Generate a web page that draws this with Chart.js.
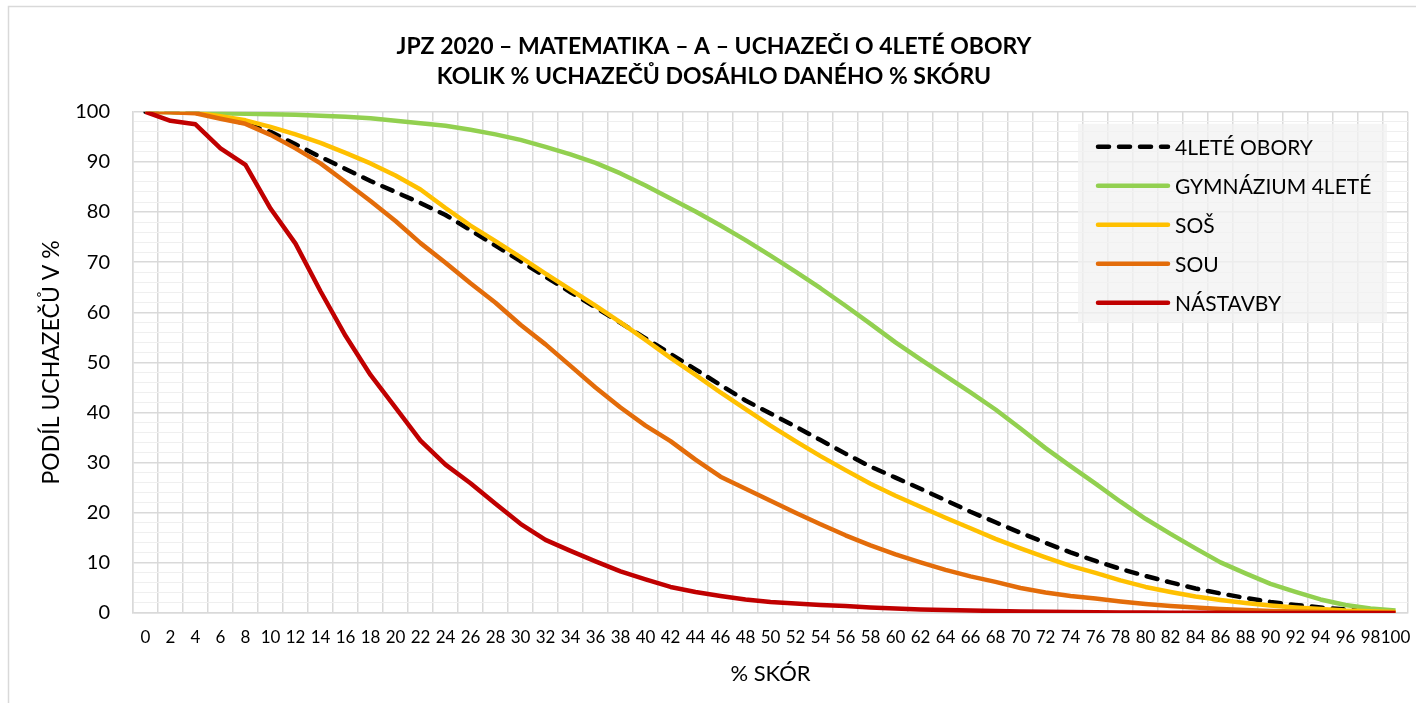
<!DOCTYPE html>
<html>
<head>
<meta charset="utf-8">
<title>JPZ 2020 – matematika – A</title>
<script src="https://cdn.jsdelivr.net/npm/chart.js@4.4.1/dist/chart.umd.min.js"></script>
<style>
  html, body { margin: 0; padding: 0; background: #fff; }
  #wrap { width: 1416px; height: 703px; }
</style>
</head>
<body>
<div id="wrap"><canvas id="chart" width="1416" height="703"></canvas></div>
<script>
// % skóre (osa x)
const scoreLabels = [0, 2, 4, 6, 8, 10, 12, 14, 16, 18, 20, 22, 24, 26, 28, 30, 32, 34, 36, 38, 40,
  42, 44, 46, 48, 50, 52, 54, 56, 58, 60, 62, 64, 66, 68, 70, 72, 74, 76, 78, 80,
  82, 84, 86, 88, 90, 92, 94, 96, 98, 100];

// podíl uchazečů, kteří dosáhli alespoň daného skóre
const oboryCtyrlete = [100, 100, 99.8, 99.0, 97.6, 96.0, 93.5, 91.0, 88.6, 86.2,
  84.0, 81.8, 79.4, 76.4, 73.3, 70.2, 67.1, 64.0, 61.0, 57.9,
  54.8, 51.7, 48.6, 45.5, 42.4, 39.8, 37.2, 34.5, 31.8, 29.2,
  27.0, 24.8, 22.5, 20.2, 18.1, 16.0, 14.0, 12.1, 10.4, 8.8,
  7.4, 6.1, 4.9, 3.9, 3.0, 2.2, 1.6, 1.1, 0.7, 0.4, 0.2];

const gymnazium = [100, 99.9, 99.8, 99.7, 99.6, 99.5, 99.4, 99.2, 99.0, 98.7,
  98.2, 97.7, 97.2, 96.4, 95.5, 94.4, 93.0, 91.5, 89.8, 87.7,
  85.3, 82.7, 80.1, 77.3, 74.4, 71.3, 68.1, 64.8, 61.3, 57.7,
  54.0, 50.6, 47.3, 44.0, 40.6, 36.8, 32.9, 29.3, 25.8, 22.2,
  18.8, 15.8, 12.9, 10.1, 7.9, 5.8, 4.2, 2.7, 1.6, 0.9, 0.5];

const sos = [100, 100, 99.8, 99.1, 98.3, 97.0, 95.5, 93.8, 91.8, 89.7,
  87.3, 84.5, 80.8, 77.3, 74.2, 71.0, 67.7, 64.5, 61.3, 58.0,
  54.5, 50.9, 47.5, 44.0, 40.7, 37.4, 34.3, 31.3, 28.5, 25.8,
  23.4, 21.2, 19.0, 16.9, 14.8, 12.9, 11.1, 9.4, 8.0, 6.5,
  5.2, 4.2, 3.3, 2.6, 2.0, 1.5, 1.1, 0.8, 0.5, 0.35, 0.2];

const sou = [100, 99.9, 99.7, 98.6, 97.6, 95.4, 92.7, 89.7, 86.0, 82.2,
  78.2, 73.8, 69.9, 65.8, 61.9, 57.5, 53.6, 49.3, 45.0, 41.0,
  37.4, 34.3, 30.6, 27.2, 24.8, 22.4, 20.0, 17.7, 15.5, 13.5,
  11.7, 10.1, 8.6, 7.3, 6.2, 5.0, 4.1, 3.4, 2.9, 2.3,
  1.8, 1.4, 1.1, 0.8, 0.6, 0.4, 0.3, 0.2, 0.1, 0.05, 0];

const nastavby = [100, 98.2, 97.5, 92.7, 89.4, 80.7, 73.7, 64.2, 55.3, 47.5,
  41.0, 34.4, 29.6, 25.9, 21.8, 17.8, 14.6, 12.4, 10.3, 8.3,
  6.7, 5.2, 4.2, 3.4, 2.7, 2.2, 1.9, 1.6, 1.4, 1.1,
  0.9, 0.7, 0.6, 0.5, 0.4, 0.3, 0.25, 0.2, 0.15, 0.1,
  0.1, 0.05, 0.05, 0.05, 0, 0, 0, 0, 0, 0, 0];

const FONT = 'Lato, "Open Sans", "Noto Sans", sans-serif';
const GRID = '#d9d9d9';
const GRID_MINOR = '#efefef';

Chart.defaults.font.family = FONT;
Chart.defaults.color = '#000';

// rámeček kolem celého grafu
const frame = {
  id: 'frame',
  beforeDraw(chart) {
    const c = chart.ctx;
    c.save();
    c.fillStyle = '#fff';
    c.fillRect(0, 0, chart.width, chart.height);
    c.strokeStyle = GRID;
    c.lineWidth = 1.5;
    c.strokeRect(8.5, 6.5, chart.width + 10, chart.height + 10);
    c.restore();
  }
};

// legenda uvnitř plochy grafu, vpravo nahoře
const innerLegend = {
  id: 'innerLegend',
  afterDraw(chart) {
    const c = chart.ctx;
    const area = chart.chartArea;
    const w = 309, h = 198;
    const x = area.right - 21 - w;
    const y = area.top + 12;
    c.save();
    c.fillStyle = 'rgba(242,242,242,0.75)';
    c.fillRect(x, y, w, h);
    c.font = '21px ' + FONT;
    c.textBaseline = 'middle';
    c.textAlign = 'left';
    chart.data.datasets.forEach((ds, i) => {
      const ry = y + 23 + i * 39;
      c.beginPath();
      c.strokeStyle = ds.borderColor;
      c.lineWidth = ds.borderWidth;
      c.lineCap = 'round';
      c.setLineDash(ds.borderDash || []);
      c.moveTo(x + 20, ry);
      c.lineTo(x + 90, ry);
      c.stroke();
      c.setLineDash([]);
      c.fillStyle = '#000';
      c.fillText(ds.label, x + 97, ry + 1);
    });
    c.restore();
  }
};

function series(label, data, color, order, dash) {
  return {
    label: label,
    data: data,
    borderColor: color,
    backgroundColor: color,
    borderWidth: 4.5,
    borderDash: dash,
    borderCapStyle: dash ? 'round' : 'butt',
    borderJoinStyle: 'round',
    pointRadius: 0,
    pointHoverRadius: 0,
    tension: 0,
    fill: false,
    order: order
  };
}

new Chart(document.getElementById('chart'), {
  type: 'line',
  data: {
    labels: scoreLabels,
    datasets: [
      series('4LETÉ OBORY', oboryCtyrlete, '#000000', 5, [11, 10]),
      series('GYMNÁZIUM 4LETÉ', gymnazium, '#92d050', 4),
      series('SOŠ', sos, '#ffc000', 3),
      series('SOU', sou, '#e36c0a', 2),
      series('NÁSTAVBY', nastavby, '#c00000', 1)
    ]
  },
  options: {
    responsive: false,
    animation: false,
    devicePixelRatio: 1,
    layout: { padding: { left: 20, right: 8, top: 0, bottom: 0 } },
    plugins: {
      legend: { display: false },
      tooltip: { enabled: false },
      title: {
        display: true,
        text: ['JPZ 2020 – MATEMATIKA – A – UCHAZEČI O 4LETÉ OBORY',
               'KOLIK % UCHAZEČŮ DOSÁHLO DANÉHO % SKÓRU'],
        color: '#000',
        font: { size: 23, weight: 'bold', lineHeight: 1.3 },
        padding: { top: 32, bottom: 20 }
      }
    },
    scales: {
      x: {
        type: 'category',
        offset: true,
        grid: { offset: true, color: GRID, lineWidth: 1.5, drawTicks: false },
        border: { color: GRID, width: 1.5 },
        ticks: {
          autoSkip: false, maxRotation: 0, minRotation: 0, padding: 14,
          color: '#000', font: { size: 17 }
        },
        title: {
          display: true, text: '% SKÓR', color: '#000',
          font: { size: 22 }, padding: { top: 0, bottom: 16 }
        },
        afterFit(scale) {
          scale.height = 90;
          // "100" na konci osy nemá zužovat plochu grafu
          scale.paddingLeft = 0;
          scale.paddingRight = 0;
        }
      },
      y: {
        min: 0,
        max: 100,
        grid: {
          drawTicks: false,
          color: ctx => (ctx.tick && ctx.tick.value % 10 === 0) ? GRID : GRID_MINOR,
          lineWidth: ctx => (ctx.tick && ctx.tick.value % 10 === 0) ? 1.5 : 1
        },
        border: { color: GRID, width: 1.5 },
        ticks: {
          stepSize: 2, autoSkip: false, padding: 23,
          color: '#000', font: { size: 20 },
          callback: v => (v % 10 === 0 ? v : '')
        },
        title: {
          display: true, text: 'PODÍL UCHAZEČŮ V %', color: '#000',
          font: { size: 23 }, padding: { top: 18, bottom: 0 }
        },
        afterFit(scale) { scale.width = 113; }
      }
    }
  },
  plugins: [frame, innerLegend]
});
</script>
</body>
</html>
